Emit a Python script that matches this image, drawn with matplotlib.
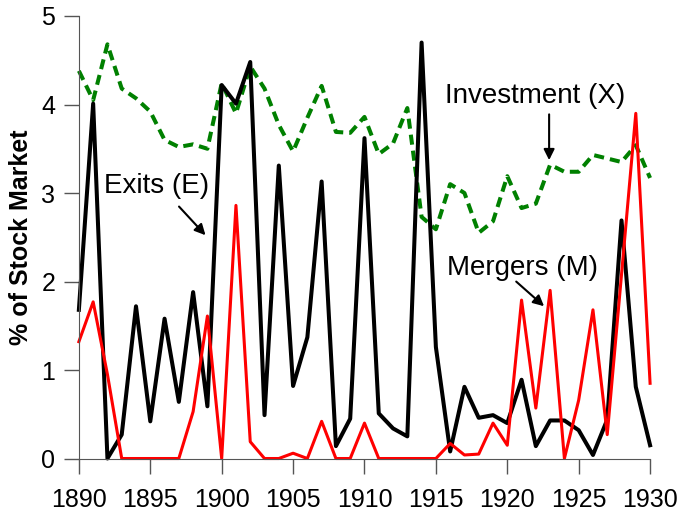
import matplotlib
matplotlib.use("Agg")
import matplotlib.pyplot as plt

years = list(range(1890, 1931))
exits = [1.68, 4.01, 0.00, 0.27, 1.72, 0.42, 1.58, 0.64, 1.88, 0.59,
         4.22, 4.01, 4.48, 0.49, 3.31, 0.82, 1.37, 3.13, 0.14, 0.45,
         3.62, 0.51, 0.34, 0.25, 4.70, 1.26, 0.08, 0.81, 0.46, 0.49,
         0.40, 0.89, 0.14, 0.43, 0.43, 0.32, 0.04, 0.44, 2.69, 0.81, 0.15]
mergers = [1.32, 1.77, 0.95, 0.00, 0.00, 0.00, 0.00, 0.00, 0.53, 1.61,
           0.00, 2.86, 0.19, 0.00, 0.00, 0.06, 0.00, 0.42, 0.00, 0.00,
           0.40, 0.00, 0.00, 0.00, 0.00, 0.00, 0.17, 0.04, 0.05, 0.40,
           0.15, 1.79, 0.57, 1.90, 0.00, 0.66, 1.68, 0.27, 2.08, 3.90, 0.85]
investment = [4.38, 4.05, 4.68, 4.18, 4.07, 3.92, 3.60, 3.52, 3.55, 3.50,
              4.24, 3.90, 4.43, 4.18, 3.77, 3.47, 3.85, 4.21, 3.69, 3.68,
              3.86, 3.44, 3.56, 3.96, 2.73, 2.59, 3.10, 3.00, 2.55, 2.68,
              3.19, 2.83, 2.88, 3.32, 3.24, 3.24, 3.43, 3.39, 3.35, 3.54, 3.17]
xticks = [1890, 1895, 1900, 1905, 1910, 1915, 1920, 1925, 1930]
yticks = [0, 1, 2, 3, 4, 5]

plt.rcParams['font.family'] = ['Liberation Sans', 'DejaVu Sans']
fig = plt.figure(figsize=(6.8, 5.16), dpi=100)
ax = fig.add_axes([0.116, 0.1114, 0.84, 0.8576])

ax.plot(years, investment, color='#008000', lw=2.9, ls=(0, (2.5, 1.5)), clip_on=False)
ax.plot(years, exits, color='black', lw=2.9, clip_on=False)
ax.plot(years, mergers, color='red', lw=2.2, clip_on=False)

ax.set_xlim(1890, 1930)
ax.set_ylim(0, 5)
ax.set_xticks(xticks)
ax.set_yticks(yticks)
ax.tick_params(axis='both', labelsize=18, direction='out', length=11, color='#555555', width=1)
ax.tick_params(axis='x', pad=10)
ax.tick_params(axis='y', pad=6)
for s in ['top', 'right']:
    ax.spines[s].set_visible(False)
for s in ['left', 'bottom']:
    ax.spines[s].set_color('#555555')
ax.set_ylabel('% of Stock Market', fontsize=18, fontweight='bold', labelpad=6)

ap = dict(arrowstyle='-|>', color='black', lw=1.5, mutation_scale=16)
ax.text(1891.75, 3.08, 'Exits (E)', fontsize=20, va='center', ha='left')
ax.annotate('', xy=(1899.0, 2.50), xytext=(1896.88, 2.87), arrowprops=ap)
ax.text(1915.63, 4.10, 'Investment (X)', fontsize=20, va='center', ha='left')
ax.annotate('', xy=(1922.93, 3.34), xytext=(1922.93, 3.92), arrowprops=ap)
ax.text(1915.77, 2.15, 'Mergers (M)', fontsize=20, va='center', ha='left')
ax.annotate('', xy=(1922.72, 1.70), xytext=(1920.48, 2.02), arrowprops=ap)

fig.savefig('out.png', dpi=100)
